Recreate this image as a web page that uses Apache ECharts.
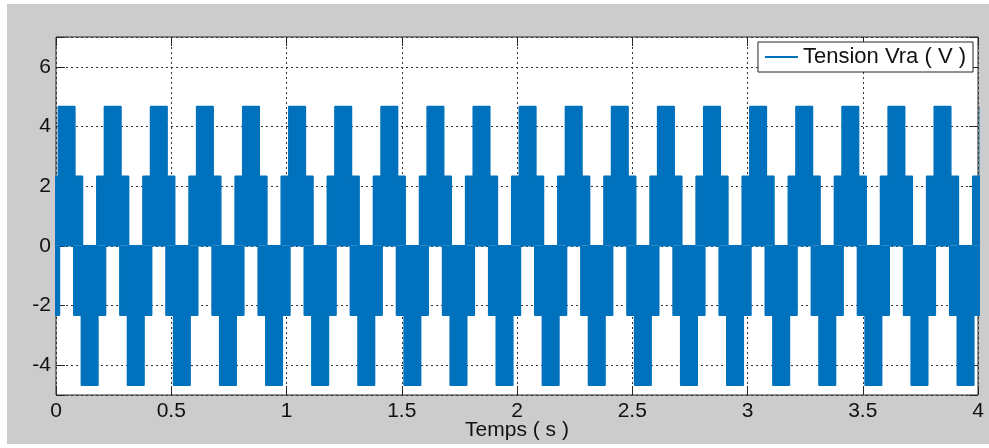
<!DOCTYPE html>
<html>
<head>
<meta charset="utf-8">
<script src="https://cdn.jsdelivr.net/npm/echarts@6/dist/echarts.min.js"></script>
<style>
	html, body { margin: 0; padding: 0; background: #fff; }
	#main { position: absolute; left: 7px; top: 4px; width: 982px; height: 440px; background: #cccccc; }
</style>
</head>
<body>
<div id="main"></div>
<script>
// centres des impulsions positives / negatives (s)
var posCenters = [0.046, 0.246, 0.446, 0.646, 0.846, 1.046, 1.246, 1.446, 1.646, 1.846, 2.046,
	2.246, 2.446, 2.646, 2.846, 3.046, 3.246, 3.446, 3.646, 3.846, 4.046];
var negCenters = [-0.054, 0.146, 0.346, 0.546, 0.746, 0.946, 1.146, 1.346, 1.546, 1.746, 1.946,
	2.146, 2.346, 2.546, 2.746, 2.946, 3.146, 3.346, 3.546, 3.746, 3.946];
// niveaux de tension (V) et demi-largeurs des paliers (s)
var outerLevel = 4.67;
var innerLevel = 2.33;
var outerHalf = 0.036;
var innerHalf = 0.069;
var xTicks = [0, 0.5, 1, 1.5, 2, 2.5, 3, 3.5, 4];
var yTicks = [-4, -2, 0, 2, 4, 6];

var seriesName = 'Tension Vra ( V )';
var blue = '#0072BD';
var font = "'Liberation Sans', Arial, Helvetica, sans-serif";

function envelope(centers, sign) {
	var pts = [];
	centers.forEach(function(c) {
		pts.push([c - innerHalf, 0], [c - innerHalf, sign * innerLevel],
			[c - outerHalf, sign * innerLevel], [c - outerHalf, sign * outerLevel],
			[c + outerHalf, sign * outerLevel], [c + outerHalf, sign * innerLevel],
			[c + innerHalf, sign * innerLevel], [c + innerHalf, 0]);
	});
	return pts;
}

function lineSeries(data) {
	return {
		name: seriesName,
		type: 'line',
		data: data,
		symbol: 'none',
		clip: true,
		lineStyle: { color: blue, width: 1.5 },
		itemStyle: { color: blue },
		areaStyle: { color: blue, opacity: 1 }
	};
}

var myChart = echarts.init(document.getElementById('main'));
var gridLine = { show: true, lineStyle: { color: '#333', width: 1, type: [2, 3] } };
var tick = { show: true, inside: true, length: 9, lineStyle: { color: '#262626' } };
var noLine = { show: false, onZero: false };
var option = {
	animation: false,
	textStyle: { fontFamily: font },
	grid: {
		left: 49, top: 33, right: 11, bottom: 49,
		outerBoundsMode: 'none',
		show: true, backgroundColor: '#fff', borderColor: '#262626', borderWidth: 1
	},
	legend: {
		right: 16, top: 38,
		data: [seriesName],
		icon: 'rect', itemWidth: 33, itemHeight: 2,
		backgroundColor: '#fff', borderColor: '#262626', borderWidth: 1,
		padding: [4, 7, 4, 7],
		textStyle: { fontFamily: font, fontSize: 22, color: '#111' }
	},
	xAxis: [
		{
			type: 'value', min: 0, max: 4, interval: 0.5, position: 'bottom',
			name: 'Temps ( s )', nameLocation: 'middle', nameGap: 25,
			nameMoveOverlap: false,
			nameTextStyle: { fontFamily: font, fontSize: 21, color: '#111' },
			axisLine: noLine,
			axisTick: tick,
			axisLabel: {
				fontFamily: font, fontSize: 21, color: '#111', margin: 6,
				formatter: function(v) { return xTicks.indexOf(v) >= 0 ? String(v) : ''; }
			},
			splitLine: gridLine
		},
		{
			type: 'value', min: 0, max: 4, interval: 0.5, position: 'top',
			axisLine: noLine,
			axisTick: tick,
			axisLabel: { show: false },
			splitLine: { show: false }
		}
	],
	yAxis: [
		{
			type: 'value', min: -5, max: 7, splitNumber: 6, position: 'left',
			axisLine: noLine,
			axisTick: tick,
			axisLabel: {
				fontFamily: font, fontSize: 21, color: '#111', margin: 5,
				formatter: function(v) { return yTicks.indexOf(v) >= 0 ? String(v) : ''; }
			},
			splitLine: gridLine
		},
		{
			type: 'value', min: -5, max: 7, splitNumber: 6, position: 'right',
			axisLine: noLine,
			axisTick: tick,
			axisLabel: { show: false },
			splitLine: { show: false }
		}
	],
	series: [
		lineSeries(envelope(posCenters, 1)),
		lineSeries(envelope(negCenters, -1))
	]
};
myChart.setOption(option);
</script>
</body>
</html>
